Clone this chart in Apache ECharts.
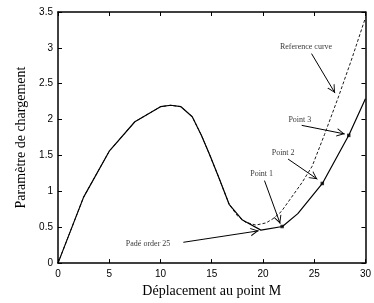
<!DOCTYPE html>
<html><head><meta charset="utf-8">
<script src="https://cdn.jsdelivr.net/npm/echarts@6/dist/echarts.min.js"></script>
<style>html,body{margin:0;padding:0;background:#fff}#c{width:374px;height:303px}</style>
</head><body><div id="c"></div>
<script>
// Padé order 25 curve (solid)
const padeX = [0, 2.5, 5, 7.5, 10, 11, 12, 13.1, 14, 14.8, 15.7, 16.7, 18, 19.8, 21.9, 23.4, 25.8, 28.4, 30];
const padeY = [0, 0.92, 1.56, 1.97, 2.18, 2.2, 2.18, 2.04, 1.78, 1.51, 1.19, 0.82, 0.60, 0.46, 0.51, 0.69, 1.11, 1.79, 2.29];
// Reference curve (dashed)
const refX = [0, 2.5, 5, 7.5, 10, 11, 12, 13.1, 14, 14.8, 15.7, 16.7, 17.5, 18.3, 19.3, 20.3, 21, 21.8, 22.8, 23.8, 24.8, 26, 27.4, 28.7, 30];
const refY = [0, 0.92, 1.56, 1.97, 2.18, 2.2, 2.18, 2.04, 1.78, 1.51, 1.19, 0.82, 0.66, 0.57, 0.53, 0.56, 0.62, 0.72, 0.92, 1.12, 1.35, 1.79, 2.33, 2.86, 3.42];
// Marked points on the Padé curve
const markX = [21.87, 25.79, 28.37];
const markY = [0.51, 1.11, 1.78];
// Annotations
const annText = ['Reference curve', 'Point 3', 'Point 2', 'Point 1', 'Padé order 25'];
const annTextX = [24.2, 23.6, 21.97, 19.87, 8.79];
const annTextY = [3.02, 2.0, 1.54, 1.24, 0.27];
const arrowFromX = [24.74, 23.78, 22.45, 20.15, 12.23];
const arrowFromY = [2.92, 1.92, 1.45, 1.15, 0.29];
const arrowToX = [27.03, 27.98, 25.31, 21.68, 19.58];
const arrowToY = [2.37, 1.80, 1.17, 0.55, 0.45];
// Axis ticks
const xMin = 0, xMax = 30, xStep = 5;
const yMin = 0, yMax = 3.5, yStep = 0.5;

const zip = (a, b) => a.map((v, i) => [v, b[i]]);
const serif = 'Liberation Serif';
const sans = 'Liberation Sans';
const arrowHead = 'path://M10,10 L15.2,20 L13.9,20 L10,12.4 L6.1,20 L4.8,20 Z M0,0 L0.01,0 L0,0.01 Z M20,0 L20.01,0 L20,0.01 Z';

const axisCommon = {
  axisLine: {show: true, onZero: false, lineStyle: {color: '#000', width: 1.5}},
  axisTick: {show: true, inside: true, length: 4, lineStyle: {color: '#000', width: 1}},
  splitLine: {show: false}
};

const chart = echarts.init(document.getElementById('c'), null, {renderer: 'canvas'});
chart.setOption({
  animation: false,
  backgroundColor: '#fff',
  grid: {left: 58, right: 2, top: 12, bottom: 36, containLabel: false},
  xAxis: [
    Object.assign({type: 'value', min: xMin, max: xMax, interval: xStep, position: 'bottom',
      name: 'Déplacement au point M', nameLocation: 'middle', nameGap: 20,
      nameTextStyle: {fontFamily: serif, fontSize: 14, color: '#000'},
      axisLabel: {fontFamily: sans, fontSize: 10, color: '#000', margin: 6}}, axisCommon),
    Object.assign({type: 'value', min: xMin, max: xMax, interval: xStep, position: 'top',
      axisLabel: {show: false}}, axisCommon)
  ],
  yAxis: [
    Object.assign({type: 'value', min: yMin, max: yMax, interval: yStep, position: 'left',
      name: 'Paramètre de chargement', nameLocation: 'middle', nameGap: 30,
      nameTextStyle: {fontFamily: serif, fontSize: 14, color: '#000'},
      axisLabel: {fontFamily: sans, fontSize: 10, color: '#000', margin: 5}}, axisCommon),
    Object.assign({type: 'value', min: yMin, max: yMax, interval: yStep, position: 'right',
      axisLabel: {show: false}}, axisCommon)
  ],
  series: [
    {type: 'line', name: 'Reference curve', data: zip(refX, refY), showSymbol: false,
      lineStyle: {color: '#000', width: 0.9, type: [3, 2]}, z: 2},
    {type: 'line', name: 'Padé order 25', data: zip(padeX, padeY), showSymbol: false,
      lineStyle: {color: '#000', width: 1.2}, z: 3},
    {type: 'scatter', name: 'points', data: zip(markX, markY), symbol: 'rect', symbolSize: 3.5,
      itemStyle: {color: '#000'}, z: 4},
    {type: 'scatter', name: 'labels', symbolSize: 0,
      data: annText.map((t, i) => ({name: t, value: [annTextX[i], annTextY[i]]})),
      label: {show: true, position: 'inside', formatter: p => p.name,
        fontFamily: serif, fontSize: 8, color: '#000'}, z: 5,
      markLine: {
        silent: true, symbol: ['none', arrowHead], symbolSize: 16,
        label: {show: false},
        lineStyle: {color: '#000', width: 1, type: 'solid'},
        emphasis: {disabled: true},
        data: arrowFromX.map((x, i) => [
          {coord: [x, arrowFromY[i]]},
          {coord: [arrowToX[i], arrowToY[i]]}
        ])
      }}
  ]
});
</script></body></html>
